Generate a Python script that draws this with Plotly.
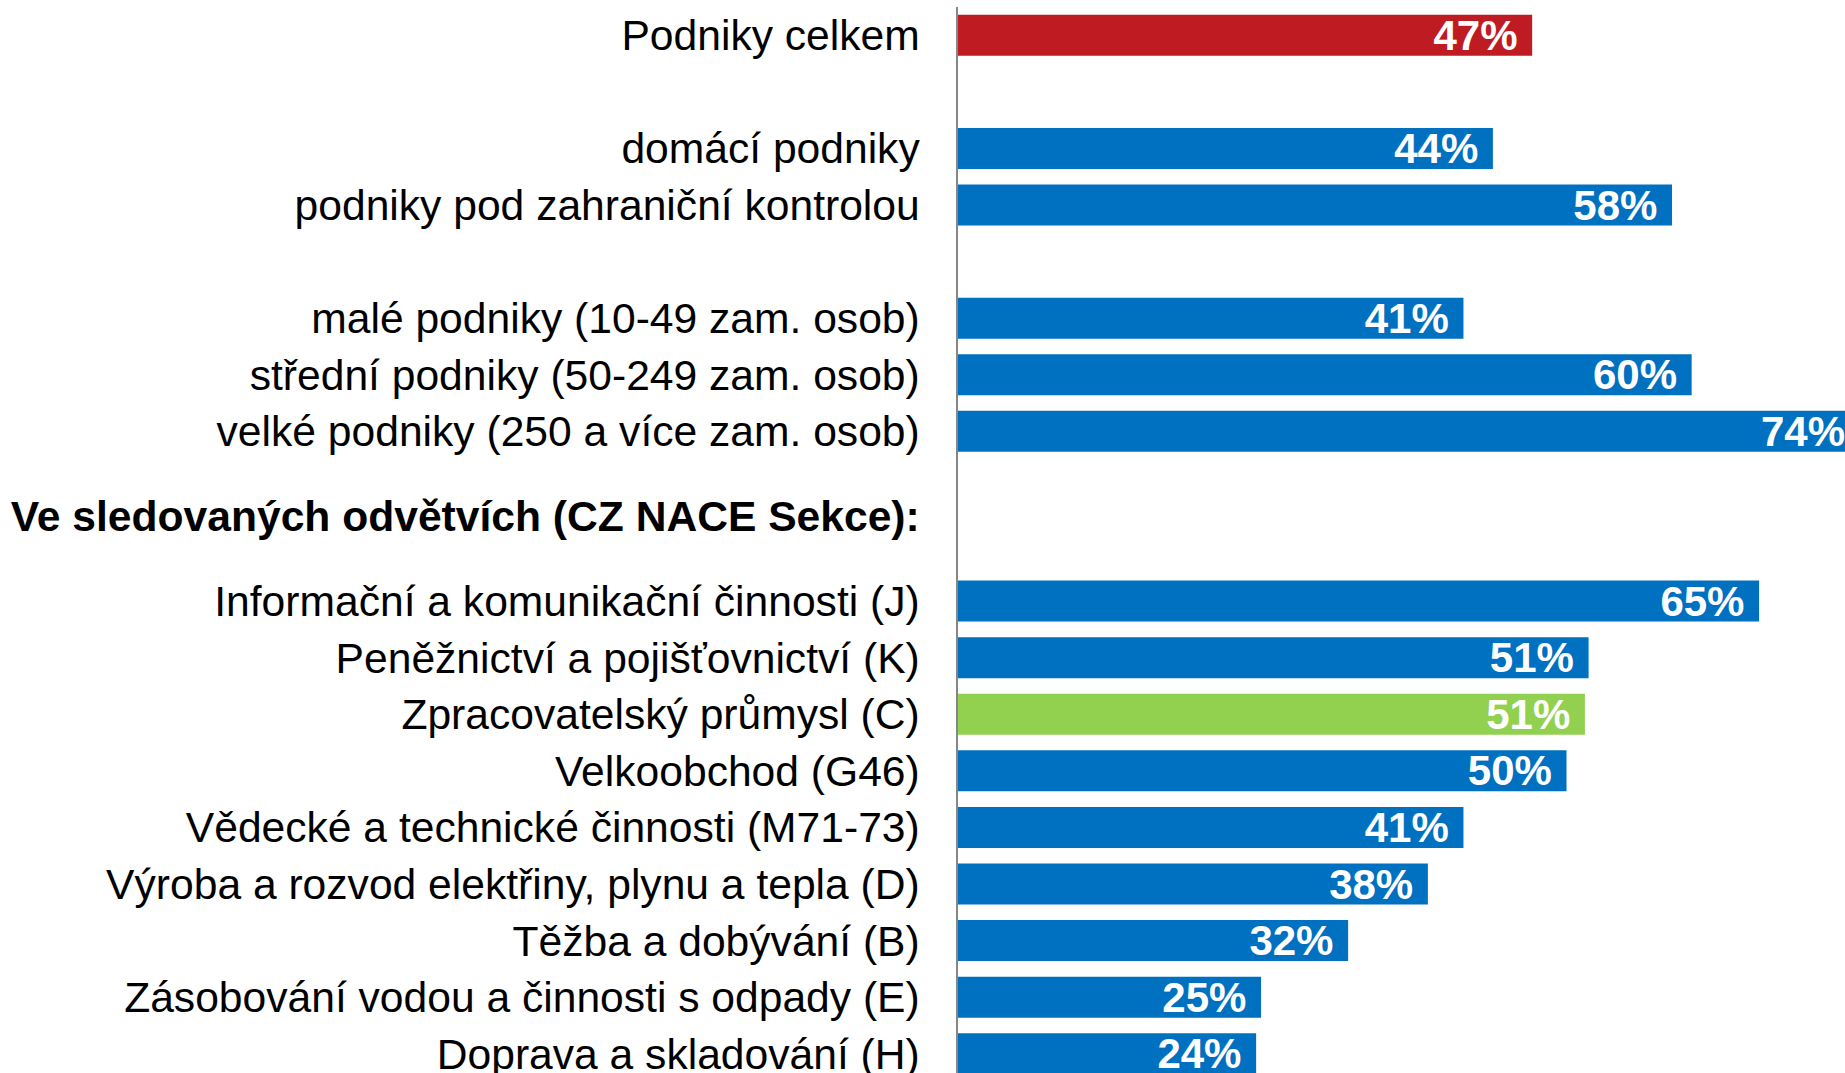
import plotly.graph_objects as go

# --- data ---
labels = [
    "Podniky celkem",
    "domácí podniky",
    "podniky pod zahraniční kontrolou",
    "malé podniky (10-49 zam. osob)",
    "střední podniky (50-249 zam. osob)",
    "velké podniky (250 a více zam. osob)",
    "Informační a komunikační činnosti (J)",
    "Peněžnictví a pojišťovnictví (K)",
    "Zpracovatelský průmysl (C)",
    "Velkoobchod (G46)",
    "Vědecké a technické činnosti (M71-73)",
    "Výroba a rozvod elektřiny, plynu a tepla (D)",
    "Těžba a dobývání (B)",
    "Zásobování vodou a činnosti s odpady (E)",
    "Doprava a skladování (H)",
]
values = [46.8, 43.6, 58.2, 41.2, 59.8, 73.5, 65.3, 51.4, 51.1, 49.6, 41.2, 38.3, 31.8, 24.7, 24.3]
# row slot of each bar (blank rows between groups)
rows = [0, 2, 3, 5, 6, 7, 10, 11, 12, 13, 14, 15, 16, 17, 18]
groups = ["total", "std", "std", "std", "std", "std", "std", "std", "highlight",
          "std", "std", "std", "std", "std", "std"]
header_label = "Ve sledovaných odvětvích (CZ NACE Sekce):"
header_row = 8.5

color_map = {"total": "#BE1B23", "std": "#0070C0", "highlight": "#92D050"}
colors = [color_map[g] for g in groups]

tickvals = rows + [header_row]
ticktext = labels + ["<b>" + header_label + "</b>"]

FONT = "Liberation Sans, Arial, sans-serif"

fig = go.Figure(
    go.Bar(
        x=values,
        y=rows,
        orientation="h",
        marker=dict(color=colors, line=dict(width=0)),
        texttemplate="%{x:.0f}%\u00a0",
        textposition="inside",
        insidetextanchor="end",
        textangle=0,
        constraintext="none",
        insidetextfont=dict(family=FONT, size=42, color="white", weight="bold"),
        hoverinfo="skip",
    )
)

fig.update_layout(
    width=1845,
    height=1073,
    margin=dict(l=958, r=0, t=7, b=0),
    paper_bgcolor="white",
    plot_bgcolor="white",
    showlegend=False,
    bargap=0.275,
    font=dict(family=FONT, size=42.6, color="black"),
)
fig.update_xaxes(
    range=[0, 72.3],
    visible=False,
    showgrid=False,
    zeroline=False,
)
fig.update_yaxes(
    range=[18.34, -0.5],
    tickmode="array",
    tickvals=tickvals,
    ticktext=ticktext,
    showgrid=False,
    zeroline=False,
    showline=True,
    linecolor="#868686",
    linewidth=1.5,
    ticks="",
    ticklabelstandoff=28,
    ticklabeloverflow="allow",
    automargin=False,
    tickfont=dict(family=FONT, size=42.6, color="black"),
)

fig.write_html(
    "out.html",
    config={"displayModeBar": False},
    post_script="document.body.style.margin='0px';document.body.style.overflow='hidden';",
)
